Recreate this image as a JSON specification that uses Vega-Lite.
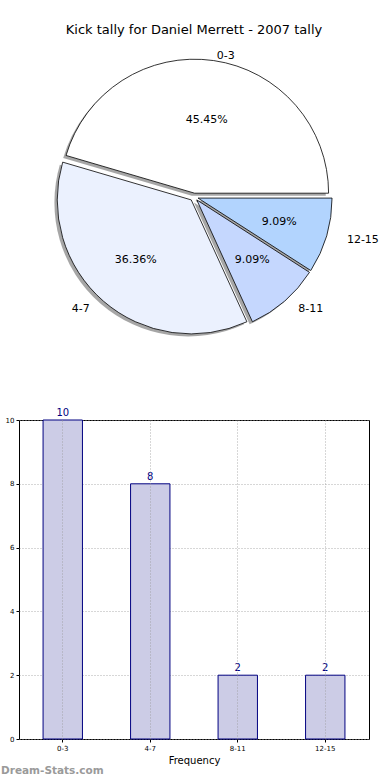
{
  "$schema": "https://vega.github.io/schema/vega-lite/v6.json",
  "padding": {"left": 0, "top": 24, "right": 0, "bottom": 0},
  "spacing": 60,
  "config": {
    "font": "DejaVu Sans",
    "axis": {"labelFont": "DejaVu Sans", "titleFont": "DejaVu Sans"},
    "text": {"font": "DejaVu Sans"}
  },
  "data": {
    "values": [
      {"range": "0-3", "ord": 1, "count": 10, "pct": "45.45%"},
      {"range": "4-7", "ord": 2, "count": 8, "pct": "36.36%"},
      {"range": "8-11", "ord": 3, "count": 2, "pct": "9.09%"},
      {"range": "12-15", "ord": 4, "count": 2, "pct": "9.09%"}
    ]
  },
  "vconcat": [
    {
      "width": 350,
      "height": 300,
      "view": {"stroke": null},
      "title": {"text": "Kick tally for Daniel Merrett - 2007 tally", "fontSize": 13, "fontWeight": "normal", "font": "DejaVu Sans", "color": "black", "anchor": "middle", "offset": 10},
      "transform": [
        {"joinaggregate": [{"op": "sum", "field": "count", "as": "total"}]},
        {"stack": "count", "groupby": [], "sort": [{"field": "ord", "order": "ascending"}], "as": ["t0", "t1"]},
        {"calculate": "datum.t0 / datum.total", "as": "f0"},
        {"calculate": "datum.t1 / datum.total", "as": "f1"},
        {"calculate": "(datum.f0 + datum.f1) * PI", "as": "a"},
        {"calculate": "0.03 * cos(datum.a)", "as": "ex"},
        {"calculate": "0.03 * sin(datum.a)", "as": "ey"},
        {"calculate": "datum.ex - 0.02", "as": "sx"},
        {"calculate": "datum.ey - 0.02", "as": "sy"},
        {"calculate": "datum.ex + 0.6 * cos(datum.a)", "as": "px"},
        {"calculate": "datum.ey + 0.6 * sin(datum.a)", "as": "py"},
        {"calculate": "datum.ex + 1.1 * cos(datum.a)", "as": "lx"},
        {"calculate": "datum.ey + 1.1 * sin(datum.a)", "as": "ly"}
      ],
      "layer": [
        {
          "mark": {"type": "arc", "radius": 134, "fill": "#4d4d4d", "fillOpacity": 0.5, "stroke": null},
          "encoding": {
            "x": {"field": "sx", "type": "quantitative", "scale": {"domain": [-1.241, 1.241], "nice": false, "zero": false}, "axis": null},
            "y": {"field": "sy", "type": "quantitative", "scale": {"domain": [-1.172, 1.172], "nice": false, "zero": false}, "axis": null},
            "theta": {"field": "f0", "type": "quantitative", "scale": {"domain": [0, 1], "range": [1.5707963, -4.712389]}},
            "theta2": {"field": "f1"}
          }
        },
        {
          "mark": {"type": "arc", "radius": 134, "stroke": "black", "strokeWidth": 0.8},
          "encoding": {
            "x": {"field": "ex", "type": "quantitative"},
            "y": {"field": "ey", "type": "quantitative"},
            "theta": {"field": "f0", "type": "quantitative"},
            "theta2": {"field": "f1"},
            "fill": {"field": "range", "type": "nominal", "scale": {"domain": ["0-3", "4-7", "8-11", "12-15"], "range": ["#FFFFFF", "#EBF1FE", "#C5D7FE", "#B2D4FE"]}, "legend": null}
          }
        },
        {
          "mark": {"type": "text", "fontSize": 11, "align": "center", "baseline": "middle", "dy": 2.5, "color": "black"},
          "encoding": {
            "x": {"field": "px", "type": "quantitative"},
            "y": {"field": "py", "type": "quantitative"},
            "text": {"field": "pct"}
          }
        },
        {
          "transform": [{"filter": "datum.lx > 0"}],
          "mark": {"type": "text", "fontSize": 11, "align": "left", "baseline": "middle", "dy": 2.5, "color": "black"},
          "encoding": {
            "x": {"field": "lx", "type": "quantitative"},
            "y": {"field": "ly", "type": "quantitative"},
            "text": {"field": "range"}
          }
        },
        {
          "transform": [{"filter": "datum.lx <= 0"}],
          "mark": {"type": "text", "fontSize": 11, "align": "right", "baseline": "middle", "dy": 2.5, "color": "black"},
          "encoding": {
            "x": {"field": "lx", "type": "quantitative"},
            "y": {"field": "ly", "type": "quantitative"},
            "text": {"field": "range"}
          }
        }
      ]
    },
    {
      "width": 350,
      "height": 319,
      "view": {"stroke": "black", "strokeWidth": 1},
      "title": {"text": "Dream-Stats.com", "orient": "bottom", "anchor": "start", "frame": "group", "dx": -18, "offset": 1, "fontSize": 10.5, "fontWeight": "bold", "font": "DejaVu Sans", "color": "#9a9a9a"},
      "layer": [
        {
          "mark": {"type": "bar", "fill": "#CCCCE6", "stroke": "#000080", "strokeWidth": 1},
          "encoding": {
            "x": {
              "field": "range", "type": "nominal", "sort": ["0-3", "4-7", "8-11", "12-15"],
              "scale": {"paddingInner": 0.55, "paddingOuter": 0.275},
              "axis": {"title": "Frequency", "labelAngle": 0, "labelFontSize": 7, "labelColor": "black", "grid": true, "bandPosition": 0.5, "gridDash": [1, 2], "gridColor": "#999999", "gridWidth": 0.8, "zindex": 1, "domain": false, "tickSize": 3, "tickColor": "black", "labelPadding": 2, "titleFontSize": 10, "titleFontWeight": "normal", "titleColor": "black", "titlePadding": 4}
            },
            "y": {
              "field": "count", "type": "quantitative",
              "scale": {"domain": [0, 10], "nice": false},
              "axis": {"title": null, "values": [0, 2, 4, 6, 8, 10], "labelFontSize": 7, "labelColor": "black", "grid": true, "gridDash": [1, 2], "gridColor": "#999999", "gridWidth": 0.8, "domain": false, "tickSize": 3, "tickColor": "black", "labelPadding": 2}
            }
          }
        },
        {
          "mark": {"type": "text", "fontSize": 10, "baseline": "alphabetic", "dy": -4, "color": "#000080"},
          "encoding": {
            "x": {"field": "range", "type": "nominal", "sort": ["0-3", "4-7", "8-11", "12-15"]},
            "y": {"field": "count", "type": "quantitative"},
            "text": {"field": "count"}
          }
        }
      ]
    }
  ]
}
